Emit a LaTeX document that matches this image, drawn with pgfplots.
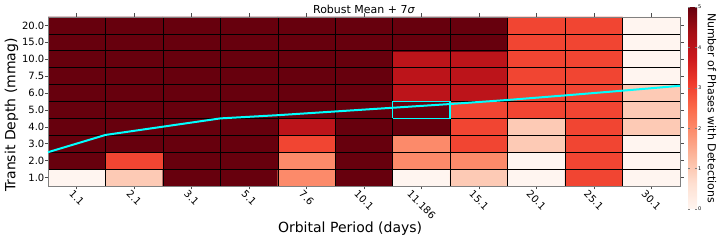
\documentclass[border=0pt]{standalone}
\usepackage{pgfplots}
\pgfplotsset{compat=1.18}
\usepackage{pgfplotstable}
\usepackage{fontspec}
\setmainfont{DejaVu Sans}
\usepackage{graphicx}
\usetikzlibrary{calc}
\pgfplotsset{
  colormap={mpreds}{rgb255=(255,245,240) rgb255=(254,224,210) rgb255=(252,187,161) rgb255=(252,146,114) rgb255=(251,106,74) rgb255=(239,59,44) rgb255=(203,24,29) rgb255=(165,15,21) rgb255=(103,0,13)},
  colorbar shift/.style={},
  every axis title shift=0pt,
}
\definecolor{cyanline}{RGB}{0,255,255}
\newcommand\rl[1]{\rotatebox{-45}{#1}}
\pgfplotstableread{
x y c
0 0 0
1 0 1
2 0 5
3 0 5
4 0 2
5 0 5
6 0 0
7 0 1
8 0 0
9 0 3
10 0 0
0 1 5
1 1 3
2 1 5
3 1 5
4 1 2
5 1 5
6 1 2
7 1 2
8 1 0
9 1 3
10 1 0
0 2 5
1 2 5
2 2 5
3 2 5
4 2 3
5 2 5
6 2 2
7 2 3
8 2 1
9 2 3
10 2 0
0 3 5
1 3 5
2 3 5
3 3 5
4 3 4
5 3 5
6 3 5
7 3 3
8 3 1
9 3 3
10 3 1
0 4 5
1 4 5
2 4 5
3 4 5
4 4 5
5 4 5
6 4 5
7 4 3
8 4 3
9 4 3
10 4 1
0 5 5
1 5 5
2 5 5
3 5 5
4 5 5
5 5 5
6 5 4
7 5 4
8 5 3
9 5 3
10 5 1
0 6 5
1 6 5
2 6 5
3 6 5
4 6 5
5 6 5
6 6 4
7 6 4
8 6 3
9 6 3
10 6 0
0 7 5
1 7 5
2 7 5
3 7 5
4 7 5
5 7 5
6 7 4
7 7 4
8 7 3
9 7 3
10 7 0
0 8 5
1 8 5
2 8 5
3 8 5
4 8 5
5 8 5
6 8 5
7 8 5
8 8 3
9 8 3
10 8 0
0 9 5
1 9 5
2 9 5
3 9 5
4 9 5
5 9 5
6 9 5
7 9 5
8 9 3
9 9 3
10 9 0
}\heat
\begin{document}
\begin{tikzpicture}
\begin{axis}[
  at={(48pt,57pt)}, anchor=south west,
  scale only axis, width=632pt, height=169pt,
  set layers=axis on top,
  xmin=-0.5, xmax=10.5, ymin=-0.5, ymax=9.5,
  xtick={0,1,2,3,4,5,6,7,8,9,10},
  ytick={0,1,2,3,4,5,6,7,8,9},
  xticklabels={\rl{1.1},\rl{2.1},\rl{3.1},\rl{5.1},\rl{7.6},\rl{10.1},\rl{11.186},\rl{15.1},\rl{20.1},\rl{25.1},\rl{30.1}},
  yticklabels={1.0,2.0,3.0,4.0,5.0,6.0,7.5,10.0,15.0,20.0},
  xticklabel style={anchor=north, inner sep=0pt, font=\fontsize{10}{12}\selectfont},
  yticklabel style={anchor=east, inner sep=0pt, font=\fontsize{10}{12}\selectfont},
  tick align=outside,
  major tick length=3.5pt,
  tick style={black!70, line width=0.6pt},
  minor xtick={0.5,1.5,...,9.5},
  minor ytick={0.5,1.5,...,8.5},
  minor tick length=0pt,
  xminorgrids=true, yminorgrids=true,
  minor grid style={black, line width=0.6pt},
  axis line style={draw=gray, line width=0.8pt},
  title={Robust Mean + 7\textit{σ}},
  title style={at={(axis description cs:0.5,1.044)}, anchor=center, font=\fontsize{11}{13}\selectfont},
  xlabel={Orbital Period (days)},
  xlabel style={at={(axis description cs:0.478,-0.254)}, anchor=center, font=\fontsize{14}{16}\selectfont},
  ylabel={Transit Depth (mmag)},
  ylabel style={at={(axis description cs:-0.0578,0.420)}, anchor=center, font=\fontsize{14}{16}\selectfont},
  colormap name=mpreds,
  point meta min=0, point meta max=5,
  colorbar,
  colorbar style={
    at={($(parent axis.north east)+(8pt,10pt)$)}, anchor=north west,
    scale only axis, width=9pt, height=202pt,
    ytick={0,1,2,3,4,5},
    yticklabels={0,1,2,3,4,5},
    yticklabel style={font=\fontsize{5}{6}\selectfont, inner sep=1pt},
    major tick length=2pt,
    tick style={black!50, line width=0.4pt},
    axis line style={draw=none},
    ylabel={Number of Phases with Detections},
    ylabel style={rotate=180, at={(axis description cs:2.65,0.5)}, anchor=center, font=\fontsize{11}{13}\selectfont},
  },
]
\addplot[matrix plot*, mesh/cols=11, point meta=explicit] table[x=x, y=y, meta=c] {\heat};
\addplot[cyanline, line width=2pt, mark=none, on layer=axis foreground] coordinates {
(-0.5,1.5) (0.5,2.52) (1.5,3.01) (2.5,3.5) (3.5,3.69) (4.5,3.91) (5.5,4.13) (6.5,4.35) (7.5,4.59) (8.5,4.86) (9.5,5.14) (10.5,5.43)};
\addplot[cyanline, line width=1.5pt, mark=none, on layer=axis foreground] coordinates {
(5.5,3.5) (6.5,3.5) (6.5,4.5) (5.5,4.5) (5.5,3.5)};
\end{axis}
\pgfresetboundingbox
\path[use as bounding box] (0,0) rectangle (720pt,243pt);
\end{tikzpicture}
\end{document}
